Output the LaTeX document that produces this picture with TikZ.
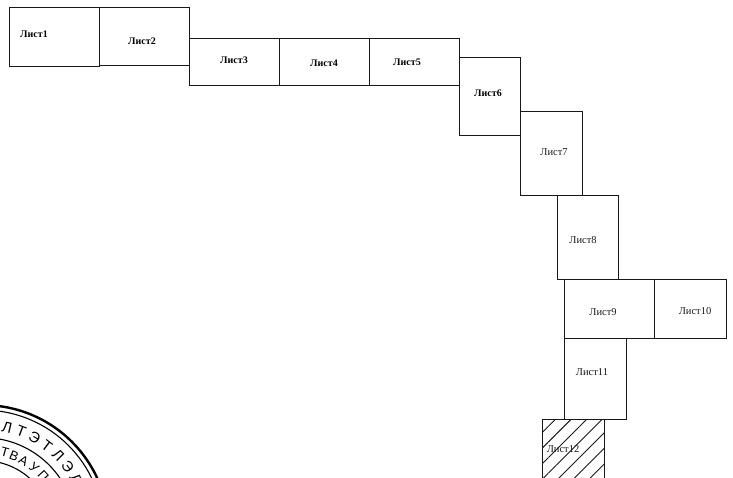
\documentclass[tikz,border=0pt]{standalone}
\usepackage{fontspec}
\setmainfont{Liberation Serif}
\newfontfamily\stampfont{Liberation Sans}
\usetikzlibrary{patterns.meta}
\tikzset{
  sheet/.style={draw=black!90,line width=1.1pt,inner sep=0pt,anchor=north west},
  hatched/.style={sheet,pattern={Lines[angle=45,distance=11pt,line width=0.9pt]},pattern color=black!90},
  boldlabel/.style={font=\bfseries\fontsize{10}{11}\selectfont,inner sep=0pt,text=black},
  thinlabel/.style={font=\fontsize{10.5}{11}\selectfont,inner sep=0pt,text=black!90},
  ringouter/.style={draw=black,line width=2.4pt},
  ringthin/.style={draw=black,line width=1.1pt},
  outerletter/.style={font=\stampfont\fontsize{15}{15}\selectfont,inner sep=0pt},
  innerletter/.style={font=\stampfont\fontsize{13}{14}\selectfont,inner sep=0pt}
}
\newcommand{\sheetbox}[6]{% name, style, x0, y0, w, h
  \node[#2,minimum width=#5pt,minimum height=#6pt] (#1) at (#3,#4) {};}
\begin{document}
\begin{tikzpicture}[x=1pt,y=-1pt]
\useasboundingbox (0,0) rectangle (733,477);
\begin{scope}
\clip (0,0) rectangle (733,477);
\sheetbox{s1}{sheet}{9}{7}{90}{59}
\sheetbox{s2}{sheet}{99}{7}{90}{58}
\sheetbox{s3}{sheet}{189}{38}{90}{47}
\sheetbox{s4}{sheet}{279}{38}{90}{47}
\sheetbox{s5}{sheet}{369}{38}{90}{47}
\sheetbox{s6}{sheet}{459}{57}{61}{78}
\sheetbox{s7}{sheet}{520}{111}{62}{84}
\sheetbox{s8}{sheet}{557}{195}{61}{84}
\sheetbox{s9}{sheet}{564}{279}{90}{59}
\sheetbox{s10}{sheet}{654}{279}{72}{59}
\sheetbox{s11}{sheet}{564}{338}{62}{81}
\sheetbox{s12}{hatched}{542}{419}{62}{70}
\node[boldlabel] (l1) at (34,34) {Лист1};
\node[boldlabel] (l2) at (142,41) {Лист2};
\node[boldlabel] (l3) at (234,60) {Лист3};
\node[boldlabel] (l4) at (324,63) {Лист4};
\node[boldlabel] (l5) at (407,62) {Лист5};
\node[boldlabel] (l6) at (488,93) {Лист6};
\node[thinlabel] (l7) at (554,152) {Лист7};
\node[thinlabel] (l8) at (583,240) {Лист8};
\node[thinlabel] (l9) at (603,312) {Лист9};
\node[thinlabel] (l10) at (695,311) {Лист10};
\node[thinlabel] (l11) at (592,372) {Лист11};
\node[thinlabel] (l12) at (563,449) {Лист12};
% stamp
\coordinate (stamp) at (-16.8,530.6);
\draw[ringouter] (stamp) circle[radius=125.5];
\draw[ringthin] (stamp) circle[radius=120.5];
\draw[ringthin] (stamp) circle[radius=93];
\draw[ringthin] (stamp) circle[radius=70];
\foreach \ch/\a in {Л/13,Т/21,Э/29,Т/37,Л/45,Э/53,Л/61}{
  \path (stamp) ++({sin(\a)*106},{-cos(\a)*106}) node[outerletter,rotate=-\a] {\ch};
}
\foreach \ch/\a in {Т/15.5,В/22.5,А/30,У/39,П/48}{
  \path (stamp) ++({sin(\a)*81},{-cos(\a)*81}) node[innerletter,rotate=-\a] {\ch};
}
\end{scope}
\end{tikzpicture}
\end{document}
